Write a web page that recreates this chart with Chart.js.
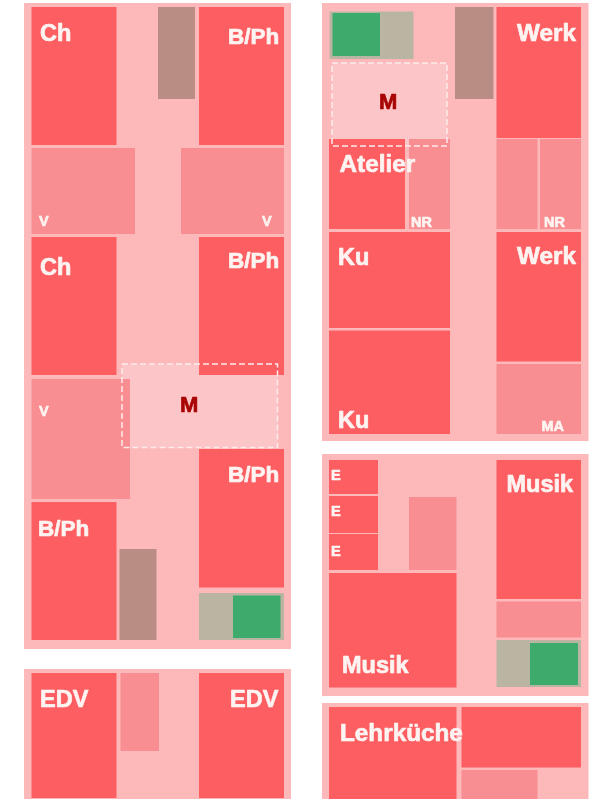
<!DOCTYPE html>
<html>
<head>
<meta charset="utf-8">
<style>
    html, body { margin: 0; padding: 0; background: #ffffff; }
    canvas { display: block; }
</style>
<script src="https://cdn.jsdelivr.net/npm/chart.js@4/dist/chart.umd.min.js"></script>
</head>
<body>
<canvas id="planChart" width="600" height="799"></canvas>
<script>
//! DATA (floor plan units)
const blockX0 = [24, 24, 322, 322, 322];
const blockX1 = [291, 291, 588.5, 588.5, 588.5];
const blockY0 = [3, 669, 3, 454, 703];
const blockY1 = [649, 799, 441, 696, 799];

//* solid rooms : kind picks the colour below
const roomKind = [
    'red', 'red', 'brown', 'pink', 'pink', 'red', 'red', 'pink', 'red', 'red', 'brown', 'beige', 'green', 'red', 'red', 'pink',
    'beige', 'green', 'red', 'pink', 'brown', 'red', 'pink', 'pink', 'red', 'red', 'red', 'pink',
    'red', 'red', 'red', 'pink', 'red', 'pink', 'beige', 'green', 'red',
    'red', 'red', 'pink'
];
const roomX0 = [
    31.5, 199, 158, 31.5, 181, 31.5, 199, 31.5, 199, 31.5, 119.5, 199, 233, 31.5, 199, 120.5,
    329.5, 332.5, 329, 409, 455, 496.5, 496.5, 540, 329, 329, 496.5, 496.5,
    329, 329, 329, 409, 496.5, 496.5, 496.5, 530, 329,
    329, 461.5, 461.5
];
const roomX1 = [
    116.5, 284, 195, 135, 284, 116.5, 284, 130, 284, 116.5, 156.5, 284, 280.5, 116.5, 284, 159,
    413.5, 380, 405, 450, 493.5, 581, 537.5, 581, 450, 450, 581, 581,
    378, 378, 378, 456.5, 581, 581, 581, 578, 456.5,
    456.5, 581, 537.5
];
const roomY0 = [
    7, 7, 7, 148, 148, 237, 237, 379, 449, 502, 549, 593, 595.5, 673, 673, 673,
    11.5, 13, 139, 139, 7, 7, 139, 139, 232, 330.5, 232, 364,
    460, 496, 534, 497, 460, 601.5, 640, 643, 573,
    707, 707, 770
];
const roomY1 = [
    145, 145, 99, 234, 234, 375, 375, 499, 587.5, 640, 640, 640, 638, 798, 798, 751,
    59, 56, 229, 229, 99, 138, 229, 229, 328, 434, 361.5, 434,
    494, 533, 570, 570, 599, 637.5, 687, 685, 687.5,
    799, 767.5, 799
];

//* dashed M rooms
const meetingX0 = [122, 332];
const meetingX1 = [277.5, 447];
const meetingY0 = [364, 63];
const meetingY1 = [447.5, 146];

//* texts
const labelText = [
    'Ch', 'B/Ph', 'V', 'V', 'Ch', 'B/Ph', 'V', 'M', 'B/Ph', 'B/Ph', 'EDV', 'EDV',
    'M', 'Werk', 'Atelier', 'NR', 'NR', 'Ku', 'Werk', 'Ku', 'MA',
    'E', 'E', 'E', 'Musik', 'Musik', 'Lehrküche'
];
const labelX = [
    40, 228, 39, 262, 40, 228, 39, 180, 228, 38, 40, 230,
    379, 517, 339.5, 411, 544, 338, 517, 338, 541.5,
    331, 331, 331, 506.5, 342, 340
];
const labelY = [
    34.5, 38, 222, 222, 268.5, 262, 412, 406, 476, 530, 700.5, 700.5,
    103, 34.5, 165.5, 222.5, 222.5, 258.5, 257.5, 421.5, 427,
    475.5, 511.5, 552, 485.5, 666.5, 734.5
];
const labelKind = [
    'big', 'tight', 'small', 'small', 'big', 'tight', 'small', 'mark', 'tight', 'tight', 'big', 'big',
    'mark', 'wide', 'wide', 'small', 'small', 'big', 'wide', 'big', 'small',
    'small', 'small', 'small', 'big', 'big', 'wide'
];

//! COLOURS
const colors = {
    block: '#fdb8ba',
    red: '#fd5e62',
    pink: '#f88e91',
    brown: '#b98d83',
    beige: '#bab5a2',
    green: '#3cab6b',
    meeting: '#fcc6c9',
    dash: '#fdecec',
    text: '#fdf3f1',
    mark: '#a80404'
};
const fonts = {
    big: 'bold 23.5px "Liberation Sans"',
    tight: 'bold 22.5px "Liberation Sans"',
    wide: 'bold 24.3px "Liberation Sans"',
    small: 'bold 14.5px "Liberation Sans"',
    mark: 'bold 22px "Liberation Sans"'
};

//* closed outline of one rectangle, as points for a scatter line
function outline(x0, x1, y0, y1) {
    return [{ x: x0, y: y0 }, { x: x1, y: y0 }, { x: x1, y: y1 }, { x: x0, y: y1 }, { x: x0, y: y0 }];
}

function area(x0, x1, y0, y1, color) {
    return {
        data: outline(x0, x1, y0, y1),
        showLine: true,
        fill: 'shape',
        backgroundColor: color,
        borderWidth: 0,
        pointRadius: 0,
        tension: 0
    };
}

//! DATASETS (list order = paint order, see order below)
const datasets = [];
blockX0.forEach((x, i) => datasets.push(area(x, blockX1[i], blockY0[i], blockY1[i], colors.block)));
meetingX0.forEach((x, i) => datasets.push(area(x, meetingX1[i], meetingY0[i], meetingY1[i], colors.meeting)));
roomX0.forEach((x, i) => datasets.push(area(x, roomX1[i], roomY0[i], roomY1[i], colors[roomKind[i]])));
meetingX0.forEach((x, i) => {
    datasets.push({
        data: outline(x, meetingX1[i], meetingY0[i], meetingY1[i]),
        showLine: true,
        fill: false,
        borderColor: colors.dash,
        borderWidth: 1.5,
        borderDash: [6, 3],
        pointRadius: 0,
        tension: 0
    });
});
//* chart.js paints lower order last
datasets.forEach((d, i) => { d.order = datasets.length - i; });

//! TEXT PLUGIN
const labelPlugin = {
    id: 'roomLabels',
    afterDatasetsDraw(chart) {
        const { ctx, scales } = chart;
        ctx.save();
        ctx.textBaseline = 'middle';
        ctx.textAlign = 'left';
        ctx.lineWidth = 0.7;
        ctx.lineJoin = 'round';
        labelText.forEach((text, i) => {
            const x = scales.x.getPixelForValue(labelX[i]);
            const y = scales.y.getPixelForValue(labelY[i]);
            const color = labelKind[i] === 'mark' ? colors.mark : colors.text;
            ctx.font = fonts[labelKind[i]];
            ctx.fillStyle = color;
            ctx.strokeStyle = color;
            ctx.fillText(text, x, y);
            //* the original lettering is a bit heavier than plain bold
            ctx.strokeText(text, x, y);
        });
        ctx.restore();
    }
};

//! CREATE CHART
const planChart = new Chart(document.getElementById('planChart'), {
    type: 'scatter',
    data: { datasets },
    plugins: [labelPlugin],
    options: {
        responsive: false,
        animation: false,
        layout: { padding: 0 },
        plugins: { legend: { display: false }, tooltip: { enabled: false } },
        scales: {
            x: { type: 'linear', display: false, min: 0, max: 600 },
            y: { type: 'linear', display: false, min: 0, max: 799, reverse: true }
        }
    }
});
</script>
</body>
</html>
